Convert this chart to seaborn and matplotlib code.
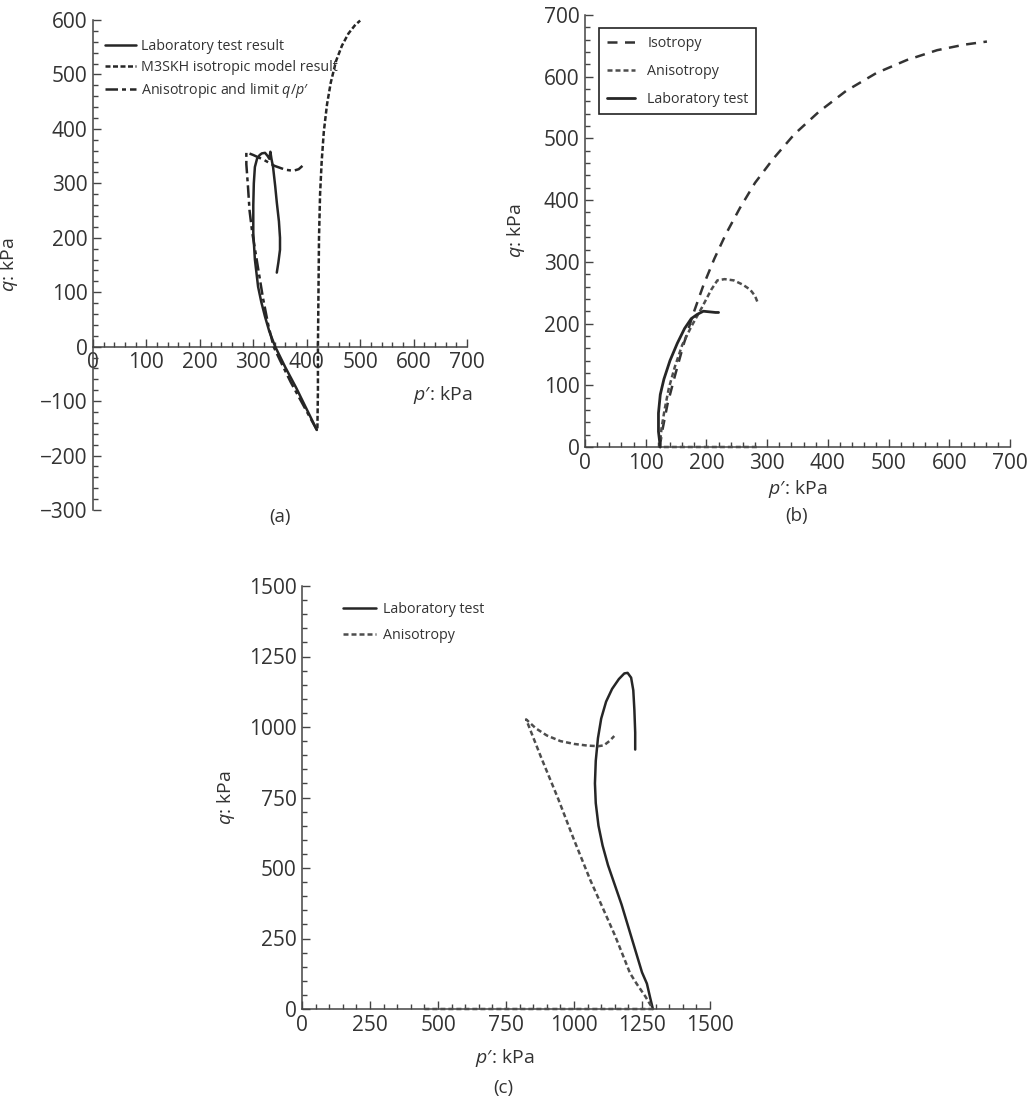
import matplotlib
matplotlib.use("Agg")
import matplotlib.pyplot as plt
from matplotlib.ticker import MultipleLocator
import seaborn as sns

# ---------------- (a) stress paths ----------------
a_lab_p = [419, 400, 380, 360, 341, 330, 322, 315, 309, 303, 300, 300, 301, 303,
           307, 312, 316, 322, 327, 330, 332, 334, 337, 341, 344, 348, 350, 350, 347, 344]
a_lab_q = [-153, -115, -75, -38, 0, 28, 55, 82, 110, 160, 209, 260, 300, 330,
           345, 352, 355, 356, 350, 345, 358, 345, 330, 295, 265, 230, 200, 178, 155, 136]

a_iso_p = [420, 421, 421, 422, 423, 425, 428, 432, 438, 445, 455, 466, 478, 490, 500]
a_iso_q = [-150, -80, 0, 100, 200, 280, 340, 395, 445, 485, 525, 553, 575, 590, 599]

a_ani_p = [419, 395, 370, 350, 338, 328, 318, 308, 298, 293, 290, 287, 287,
           300, 320, 340, 360, 375, 385, 392]
a_ani_q = [-153, -110, -65, -25, 0, 40, 90, 150, 210, 250, 295, 335, 357,
           352, 343, 332, 325, 323, 326, 332]

# ---------------- (b) stress paths ----------------
b_iso_p = [123, 128, 136, 148, 162, 178, 195, 213, 232, 255, 280, 310, 345,
           385, 430, 480, 530, 580, 625, 662]
b_iso_q = [0, 30, 70, 115, 165, 215, 262, 305, 345, 387, 428, 467, 507,
           543, 577, 606, 627, 643, 652, 657]

b_ani_p = [283, 200, 123, 126, 131, 138, 148, 160, 175, 192, 208, 218, 230,
           245, 260, 272, 280, 284]
b_ani_q = [0, 0, 0, 30, 60, 95, 130, 165, 195, 225, 255, 270, 272,
           270, 263, 255, 245, 235]

b_lab_p = [124, 121, 121, 124, 130, 140, 152, 164, 175, 185, 195, 205, 215, 220]
b_lab_q = [0, 25, 55, 85, 110, 140, 168, 192, 208, 215, 220, 219, 218, 218]

# ---------------- (c) stress paths ----------------
c_lab_p = [1290, 1280, 1268, 1250, 1225, 1200, 1175, 1150, 1125, 1105, 1090, 1080, 1077,
           1080, 1088, 1100, 1118, 1140, 1165, 1185, 1197, 1210, 1218, 1222, 1225, 1225]
c_lab_q = [0, 40, 90, 130, 210, 290, 370, 440, 510, 580, 650, 730, 800,
           880, 960, 1030, 1090, 1135, 1170, 1190, 1192, 1175, 1130, 1060, 980, 920]

c_ani_p = [450, 870, 1290, 1262, 1230, 1206, 1180, 1150, 1105, 1060, 1000, 942, 880, 824,
           860, 900, 950, 1000, 1050, 1090, 1110, 1130, 1148]
c_ani_q = [0, 0, 0, 45, 90, 127, 190, 262, 360, 457, 600, 745, 890, 1027,
           995, 970, 950, 940, 934, 932, 935, 950, 968]

# ---------------- styling ----------------
sns.set_style("ticks")
plt.rcParams["font.family"] = ["Open Sans", "DejaVu Sans"]
plt.rcParams["mathtext.fontset"] = "custom"
plt.rcParams["mathtext.rm"] = "Open Sans"
plt.rcParams["mathtext.it"] = "Open Sans:italic"
TXT = "#333333"
AXC = "#444444"
DARK = "#262626"
MID = "#4d4d4d"
plt.rcParams["text.color"] = TXT

W, H = 1030, 1099
fig = plt.figure(figsize=(W / 100, H / 100), dpi=100)


def add_axes(left, top, right, bottom):
    return fig.add_axes([left / W, 1 - bottom / H, (right - left) / W, (bottom - top) / H])


def style_axes(ax, xmax, ymin, ymax, major, minor):
    ax.set_xlim(0, xmax)
    ax.set_ylim(ymin, ymax)
    for axis in (ax.xaxis, ax.yaxis):
        axis.set_major_locator(MultipleLocator(major))
        axis.set_minor_locator(MultipleLocator(minor))
    for s in ("top", "right"):
        ax.spines[s].set_visible(False)
    for s in ("left", "bottom"):
        ax.spines[s].set_color(AXC)
        ax.spines[s].set_linewidth(1.1)
    ax.tick_params(which="both", direction="in", colors=AXC, labelcolor=TXT,
                   labelsize=15, width=1.0, pad=4)
    ax.tick_params(which="major", length=6)
    ax.tick_params(which="minor", length=3.5)
    ax.set_facecolor("white")


def path(ax, p, q, color, ls, label, lw=1.8):
    sns.lineplot(x=p, y=q, sort=False, estimator=None, ax=ax, color=color,
                 linewidth=lw, linestyle=ls, label=label, clip_on=False, zorder=3)


ax_a = add_axes(93, 20, 467, 510)
ax_b = add_axes(585, 15, 1010, 447)
ax_c = add_axes(302, 586, 710, 1009)

# (a)
style_axes(ax_a, 700, -300, 600, 100, 20)
ax_a.spines["bottom"].set_position(("data", 0))
path(ax_a, a_lab_p, a_lab_q, DARK, "-", "Laboratory test result")
path(ax_a, a_iso_p, a_iso_q, DARK, (0, (2.0, 1.0)), "M3SKH isotropic model result")
path(ax_a, a_ani_p, a_ani_q, DARK, (0, (5.0, 1.6, 1.6, 1.6)), "Anisotropic and limit $q$/$p$′")
ax_a.set_ylabel("$q$: kPa", fontsize=14, color=TXT)
ax_a.yaxis.set_label_coords(-0.195, 0.5)
ax_a.set_xlabel("$p$′: kPa", fontsize=14, color=TXT, ha="right", va="center")
ax_a.xaxis.set_label_coords(1.016, 0.2347)
leg = ax_a.legend(loc="upper left", bbox_to_anchor=(0.032, 0.961), frameon=False,
                  fontsize=10.3, handlelength=2.2, handletextpad=0.35,
                  labelspacing=0.4, borderpad=0, borderaxespad=0)
for t in leg.get_texts():
    t.set_color(TXT)

# (b)
style_axes(ax_b, 700, 0, 700, 100, 20)
path(ax_b, b_iso_p, b_iso_q, "#333333", (0, (4.0, 3.0)), "Isotropy")
path(ax_b, b_ani_p, b_ani_q, MID, (0, (2.0, 1.2)), "Anisotropy")
path(ax_b, b_lab_p, b_lab_q, DARK, "-", "Laboratory test", lw=2.0)
ax_b.set_ylabel("$q$: kPa", fontsize=14, color=TXT)
ax_b.yaxis.set_label_coords(-0.136, 0.5)
ax_b.set_xlabel("$p$′: kPa", fontsize=14, color=TXT, va="center")
ax_b.xaxis.set_label_coords(0.5, -0.097)
leg = ax_b.legend(loc="upper left", bbox_to_anchor=(0.033, 0.970), frameon=True,
                  fancybox=False, edgecolor="#222222", framealpha=1,
                  fontsize=10.3, handlelength=1.95, handletextpad=0.87,
                  labelspacing=0.9, borderpad=0.55, borderaxespad=0)
leg.get_frame().set_linewidth(1.2)
for t in leg.get_texts():
    t.set_color(TXT)

# (c)
style_axes(ax_c, 1500, 0, 1500, 250, 50)
path(ax_c, c_lab_p, c_lab_q, DARK, "-", "Laboratory test")
path(ax_c, c_ani_p, c_ani_q, MID, (0, (2.0, 1.2)), "Anisotropy")
ax_c.set_ylabel("$q$: kPa", fontsize=14, color=TXT)
ax_c.yaxis.set_label_coords(-0.159, 0.5)
ax_c.set_xlabel("$p$′: kPa", fontsize=14, color=TXT, va="center")
ax_c.xaxis.set_label_coords(0.4975, -0.116)
leg = ax_c.legend(loc="upper left", bbox_to_anchor=(0.1005, 0.962), frameon=False,
                  fontsize=10.3, handlelength=2.3, handletextpad=0.5,
                  labelspacing=0.75, borderpad=0, borderaxespad=0)
for t in leg.get_texts():
    t.set_color(TXT)

# panel captions
fig.text(280 / W, 1 - 517 / H, "(a)", ha="center", va="center", fontsize=13.5)
fig.text(797 / W, 1 - 516 / H, "(b)", ha="center", va="center", fontsize=13.5)
fig.text(503 / W, 1 - 1088 / H, "(c)", ha="center", va="center", fontsize=13.5)

fig.savefig("out.png", dpi=100, facecolor="white")
